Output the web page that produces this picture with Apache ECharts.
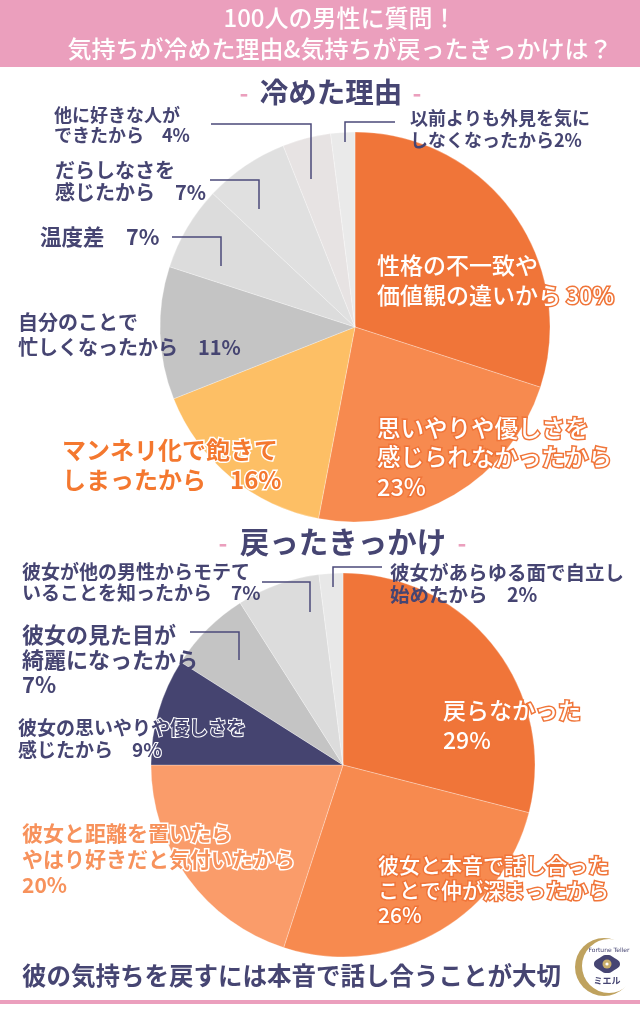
<!DOCTYPE html>
<html><head><meta charset="utf-8">
<script src="https://cdn.jsdelivr.net/npm/echarts@6/dist/echarts.min.js"></script>
<style>html,body{margin:0;padding:0;background:#fff}#c{width:640px;height:1024px}</style>
</head><body><div id="c"></div>
<script>
// ---------- data ----------
const titleLines = ['100人の男性に質問！', '気持ちが冷めた理由&気持ちが戻ったきっかけは？'];
const heading1 = '冷めた理由';
const heading2 = '戻ったきっかけ';
const footerText = '彼の気持ちを戻すには本音で話し合うことが大切';

const coolNames = ['性格の不一致や価値観の違いから', '思いやりや優しさを感じられなかったから', 'マンネリ化で飽きてしまったから', '自分のことで忙しくなったから', '温度差', 'だらしなさを感じたから', '他に好きな人ができたから', '以前よりも外見を気にしなくなったから'];
const coolValues = [30, 23, 16, 11, 7, 7, 4, 2];
const coolLabelText = ['性格の不一致や\n価値観の違いから ', '思いやりや優しさを\n感じられなかったから\n', 'マンネリ化で飽きて\nしまったから　', '自分のことで\n忙しくなったから　', '温度差　', 'だらしなさを\n感じたから　', '他に好きな人が\nできたから　', '以前よりも外見を気に\nしなくなったから'];

const backNames = ['戻らなかった', '彼女と本音で話し合ったことで仲が深まったから', '彼女と距離を置いたらやはり好きだと気付いたから', '彼女の思いやりや優しさを感じたから', '彼女の見た目が綺麗になったから', '彼女が他の男性からモテていることを知ったから', '彼女があらゆる面で自立し始めたから'];
const backValues = [29, 26, 20, 9, 7, 7, 2];
const backLabelText = ['戻らなかった\n', '彼女と本音で話し合った\nことで仲が深まったから\n', '彼女と距離を置いたら\nやはり好きだと気付いたから\n', '彼女の思いやりや優しさを\n感じたから　', '彼女の見た目が\n綺麗になったから\n', '彼女が他の男性からモテて\nいることを知ったから　', '彼女があらゆる面で自立し\n始めたから　'];

// ---------- styles ----------
const FONT = "'Noto Sans CJK JP', 'Noto Sans', sans-serif";
const NAVY = '#464572';
const PINK = '#EB9FBD';
const LINE = '#4B4A7A';
const coolColors = ['#F07539', '#F78A4F', '#FDBF65', '#C4C4C4', '#DCDCDC', '#E0E0E0', '#E7E3E3', '#EAEAEA'];
const backColors = ['#F07539', '#F78A4F', '#FA9C6A', '#454470', '#C4C4C4', '#DCDCDC', '#E8E8E8'];

const whiteLbl = (fs, lh) => ({color: '#fff', fontSize: fs, lineHeight: lh, fontWeight: 500, textBorderColor: '#F07539', textBorderWidth: 3});
const navyLbl = (fs, lh) => ({color: NAVY, fontSize: fs, lineHeight: lh, fontWeight: 'bold'});

const coolStyle = [
  {s: whiteLbl(23, 30), x: 377, y: 250},
  {s: whiteLbl(23.5, 29.5), x: 377, y: 413},
  {s: {color: '#F4782F', fontSize: 24, lineHeight: 30, fontWeight: 'bold', textBorderColor: '#fff', textBorderWidth: 3}, x: 62, y: 435},
  {s: navyLbl(20, 25), x: 18, y: 309.5},
  {s: navyLbl(21.5, 26), x: 40, y: 224, line: [[221, 266], [221, 237], [172, 237]]},
  {s: navyLbl(20, 22), x: 55, y: 159, line: [[259, 209], [259, 180], [210, 180]]},
  {s: navyLbl(18, 20), x: 54, y: 105, line: [[311, 179], [311, 124], [211, 124]]},
  {s: navyLbl(18, 22), x: 410, y: 107, line: [[345, 142], [345, 122], [395, 122]]}
];
const backStyle = [
  {s: whiteLbl(23, 30), x: 443, y: 695},
  {s: whiteLbl(21, 25), x: 378, y: 852.5},
  {s: {color: '#F7925C', fontSize: 21, lineHeight: 26, fontWeight: 'bold', textBorderColor: '#fff', textBorderWidth: 3}, x: 22, y: 820},
  {s: {color: NAVY, fontSize: 19, lineHeight: 22, fontWeight: 'bold', textBorderColor: '#fff', textBorderWidth: 2}, x: 18, y: 717},
  {s: navyLbl(22, 25), x: 22, y: 622.5, line: [[239, 660], [239, 632], [190, 632]]},
  {s: navyLbl(19, 21), x: 22, y: 561.5, line: [[310, 612], [310, 582], [262, 582]]},
  {s: navyLbl(19.5, 22), x: 390, y: 562, line: [[333, 587], [333, 567], [382, 567]]}
];

function buildData(names, values, texts, colors, styles) {
  return names.map((n, i) => ({
    name: n,
    value: values[i],
    itemStyle: {color: colors[i]},
    label: Object.assign({fontFamily: FONT, formatter: texts[i] + values[i] + '%', overflow: 'none'}, styles[i].s)
  }));
}
function mkLayout(styles) {
  return function (p) {
    const o = styles[p.dataIndex];
    return {x: o.x, y: o.y, align: 'left', verticalAlign: 'top'};
  };
}
function pieSeries(center, radius, data, styles) {
  return {
    type: 'pie', center: center, radius: radius, startAngle: 90, clockwise: true,
    avoidLabelOverlap: false, silent: true, animation: false,
    emphasis: {disabled: true},
    itemStyle: {borderColor: 'rgba(255,255,255,0.35)', borderWidth: 0.8},
    label: {show: true, position: 'outside', overflow: 'none'},
    labelLine: {show: false},
    labelLayout: mkLayout(styles),
    data: data
  };
}
function leaderLines(styles) {
  return styles.filter(o => o.line).map(o => ({
    type: 'polyline', silent: true, z: 100,
    shape: {points: o.line},
    style: {stroke: LINE, lineWidth: 1.5, fill: null}
  }));
}

const chart = echarts.init(document.getElementById('c'), null, {renderer: 'canvas'});
const txt = (x, y, text, st) => ({type: 'text', x: x, y: y, silent: true, style: Object.assign({text: text, fontFamily: FONT, align: 'center', verticalAlign: 'middle'}, st)});

chart.setOption({
  backgroundColor: '#fff',
  animation: false,
  series: [
    pieSeries([355, 327], 195, buildData(coolNames, coolValues, coolLabelText, coolColors, coolStyle), coolStyle),
    pieSeries([343, 765], 192, buildData(backNames, backValues, backLabelText, backColors, backStyle), backStyle)
  ],
  graphic: [
    {type: 'rect', shape: {x: 0, y: 0, width: 640, height: 67}, style: {fill: PINK}, silent: true},
    txt(340, 18, titleLines[0], {fill: '#fff', fontSize: 24, fontWeight: 500}),
    txt(340, 49, titleLines[1], {fill: '#fff', fontSize: 24, fontWeight: 500}),
    txt(331, 92, heading1, {fill: NAVY, fontSize: 28.5, fontWeight: 'bold'}),
    txt(244, 93, '-', {fill: PINK, fontSize: 24, fontWeight: 'bold'}),
    txt(417, 93, '-', {fill: PINK, fontSize: 24, fontWeight: 'bold'}),
    txt(343, 542, heading2, {fill: NAVY, fontSize: 29.5, fontWeight: 'bold'}),
    txt(223, 543, '-', {fill: PINK, fontSize: 24, fontWeight: 'bold'}),
    txt(462, 543, '-', {fill: PINK, fontSize: 24, fontWeight: 'bold'}),
    txt(22, 976, footerText, {fill: NAVY, fontSize: 24.5, fontWeight: 'bold', align: 'left'}),
    {type: 'rect', shape: {x: 0, y: 1000, width: 640, height: 4}, style: {fill: PINK}, silent: true},
    // logo
    {type: 'circle', silent: true, shape: {cx: 604, cy: 967, r: 29}, style: {fill: '#BFA25E'}},
    {type: 'circle', silent: true, shape: {cx: 609, cy: 966, r: 27}, style: {fill: '#fff'}},
    {type: 'polygon', silent: true, shape: {smooth: 0.5, points: [[594, 964], [601, 957], [607, 955], [613, 957], [620, 964], [613, 971], [607, 973], [601, 971]]}, style: {fill: NAVY}},
    {type: 'circle', silent: true, shape: {cx: 607, cy: 964, r: 4.5}, style: {fill: '#C9AE6A'}},
    {type: 'circle', silent: true, shape: {cx: 607, cy: 964, r: 1.6}, style: {fill: '#fff'}},
    txt(609, 950, 'Fortune Teller', {fill: NAVY, fontSize: 6, fontFamily: 'DejaVu Sans'}),
    txt(607, 981, 'ミエル', {fill: NAVY, fontSize: 9, fontWeight: 'bold'})
  ].concat(leaderLines(coolStyle), leaderLines(backStyle))
});
</script></body></html>
